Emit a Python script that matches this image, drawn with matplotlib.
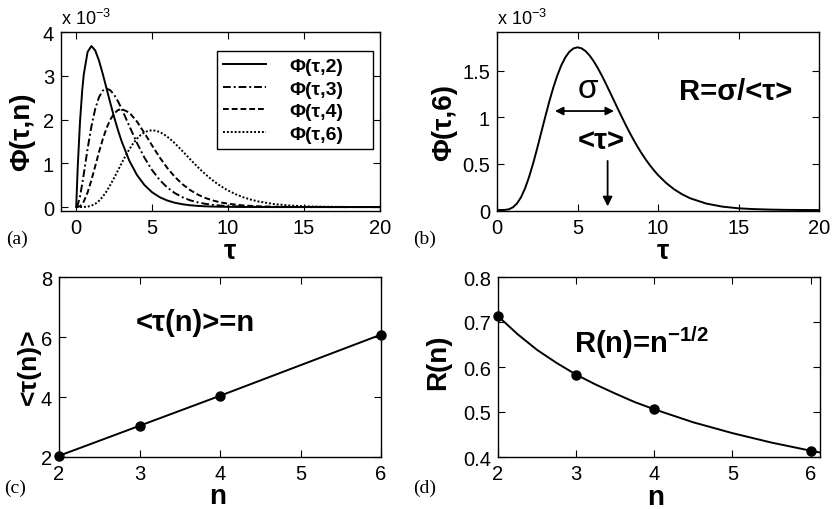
import matplotlib
matplotlib.use("Agg")
import matplotlib.pyplot as plt
from matplotlib.ticker import FormatStrFormatter

plt.rcParams['font.family'] = ['Liberation Sans', 'DejaVu Sans']
plt.rcParams['mathtext.fontset'] = 'custom'
plt.rcParams['mathtext.rm'] = 'Liberation Sans'
plt.rcParams['mathtext.it'] = 'Liberation Sans:italic'
plt.rcParams['mathtext.bf'] = 'Liberation Sans:bold'

# ---- waiting-time distributions Phi(tau, n), values in units of 1e-3 ----
tau_a = [0, 0.1, 0.25, 0.4, 0.5, 0.75, 1, 1.25, 1.5, 1.75, 2, 2.25, 2.5, 2.75,
         3, 3.5, 4, 4.5, 5, 5.5, 6, 6.5, 7, 7.5, 8, 8.5, 9, 9.5, 10, 11, 12,
         13, 14, 15, 16, 17, 18, 20]
phi_2 = [0, 0.905, 1.947, 2.681, 3.033, 3.543, 3.679, 3.581, 3.347, 3.041,
         2.707, 2.372, 2.052, 1.758, 1.494, 1.057, 0.733, 0.500, 0.337, 0.225,
         0.149, 0.098, 0.064, 0.041, 0.027, 0.017, 0.011, 0.007, 0.005, 0.002,
         0.001, 0, 0, 0, 0, 0, 0, 0]
phi_3 = [0, 0.045, 0.243, 0.536, 0.758, 1.329, 1.839, 2.238, 2.510, 2.661,
         2.707, 2.668, 2.565, 2.417, 2.240, 1.849, 1.465, 1.125, 0.842, 0.618,
         0.446, 0.317, 0.223, 0.155, 0.107, 0.074, 0.050, 0.034, 0.023, 0.010,
         0.004, 0.002, 0.001, 0, 0, 0, 0, 0]
phi_4 = [0, 0.002, 0.020, 0.071, 0.126, 0.332, 0.613, 0.932, 1.255, 1.552,
         1.804, 2.001, 2.138, 2.216, 2.240, 2.158, 1.954, 1.687, 1.404, 1.133,
         0.892, 0.688, 0.521, 0.389, 0.286, 0.208, 0.150, 0.107, 0.076, 0.037,
         0.018, 0.008, 0.004, 0.002, 0.001, 0, 0, 0]
tau_6 = [0, 0.5, 0.75, 1, 1.25, 1.5, 1.75, 2, 2.25, 2.5, 2.75, 3, 3.25, 3.5,
         3.75, 4, 4.25, 4.5, 4.75, 5, 5.25, 5.5, 5.75, 6, 6.25, 6.5, 6.75, 7,
         7.25, 7.5, 7.75, 8, 8.25, 8.5, 8.75, 9, 9.25, 9.5, 9.75, 10, 10.5, 11,
         11.5, 12, 13, 14, 15, 16, 17, 18, 20]
phi_6 = [0, 0.002, 0.009, 0.031, 0.073, 0.141, 0.238, 0.361, 0.507, 0.668,
         0.838, 1.008, 1.172, 1.322, 1.453, 1.563, 1.648, 1.708, 1.743, 1.755,
         1.744, 1.714, 1.667, 1.606, 1.534, 1.454, 1.367, 1.277, 1.186, 1.094,
         1.004, 0.916, 0.832, 0.752, 0.677, 0.607, 0.542, 0.483, 0.428, 0.378,
         0.293, 0.224, 0.170, 0.127, 0.070, 0.037, 0.019, 0.010, 0.005, 0.002, 0]
legend_labels = ['Φ(τ,2)', 'Φ(τ,3)', 'Φ(τ,4)', 'Φ(τ,6)']

# ---- mean waiting time and relative width versus n ----
n_vals = [2, 3, 4, 6]
mean_tau = [2.04, 3.04, 4.04, 6.08]
r_pts = [0.713, 0.582, 0.506, 0.413]
n_curve = [2, 2.25, 2.5, 2.75, 3, 3.25, 3.5, 3.75, 4, 4.5, 5, 5.5, 6, 6.12]
r_curve = [0.713, 0.673, 0.638, 0.609, 0.583, 0.561, 0.541, 0.522, 0.506,
           0.477, 0.453, 0.432, 0.414, 0.410]

W, H = 832, 510
fig = plt.figure(figsize=(W / 100, H / 100), dpi=100)


def px_axes(left, top, right, bottom):
    return fig.add_axes([left / W, 1 - bottom / H, (right - left) / W, (bottom - top) / H])


ax_a = px_axes(61, 33, 380, 212)
ax_b = px_axes(497, 33, 819, 212)
ax_c = px_axes(59, 278, 381, 458)
ax_d = px_axes(498, 278, 820, 458)

for ax in (ax_a, ax_b, ax_c, ax_d):
    ax.tick_params(direction='in', top=True, right=True, length=5, width=0.8,
                   labelsize=14.5, pad=5)
    for s in ax.spines.values():
        s.set_linewidth(1.0)
    ax.yaxis.set_major_formatter(FormatStrFormatter('%g'))
    ax.xaxis.set_major_formatter(FormatStrFormatter('%g'))

LW = 1.4
label_kw = dict(fontsize=20, fontweight='bold')

# (a)
ax_a.plot(tau_a, phi_2, color='black', lw=LW, ls='-', label=legend_labels[0])
ax_a.plot(tau_a, phi_3, color='black', lw=LW, ls=(0, (4, 1.5, 1, 1.5)), label=legend_labels[1])
ax_a.plot(tau_a, phi_4, color='black', lw=LW, ls=(0, (3, 1.5)), label=legend_labels[2])
ax_a.plot(tau_6, phi_6, color='black', lw=LW, ls=(0, (1, 1)), label=legend_labels[3])
ax_a.set_xlim(-1, 20)
ax_a.set_ylim(-0.09, 4)
ax_a.set_xticks([0, 5, 10, 15, 20])
ax_a.set_yticks([0, 1, 2, 3, 4])
leg = ax_a.legend(loc='upper left', bbox_to_anchor=(0.488, 0.357, 0.49, 0.538),
                  mode='expand', borderaxespad=0, fancybox=False, framealpha=1,
                  edgecolor='black', prop={'weight': 'bold', 'size': 14},
                  handlelength=2.2, handletextpad=1.2, labelspacing=0.25,
                  borderpad=0.35)
leg.get_frame().set_linewidth(1.0)
ax_a.text(0, 1.02, 'x 10$^{-3}$', transform=ax_a.transAxes, ha='left', va='bottom', fontsize=13)
ax_a.text(-0.122, 0.45, 'Φ(τ,n)', transform=ax_a.transAxes, rotation=90,
          ha='center', va='center', **label_kw)
ax_a.text(0.53, -0.225, 'τ', transform=ax_a.transAxes, ha='center', va='center', **label_kw)

# (b)
ax_b.plot(tau_6, phi_6, color='black', lw=LW)
ax_b.set_xlim(0, 20)
ax_b.set_ylim(-0.01, 1.92)
ax_b.set_xticks([0, 5, 10, 15, 20])
ax_b.set_yticks([0, 0.5, 1, 1.5])
ax_b.text(0, 1.02, 'x 10$^{-3}$', transform=ax_b.transAxes, ha='left', va='bottom', fontsize=13)
ax_b.text(-0.165, 0.5, 'Φ(τ,6)', transform=ax_b.transAxes, rotation=90,
          ha='center', va='center', **label_kw)
ax_b.text(0.515, -0.225, 'τ', transform=ax_b.transAxes, ha='center', va='center', **label_kw)
ax_b.annotate('', xy=(3.6, 1.068), xytext=(7.27, 1.068),
              arrowprops=dict(arrowstyle='<|-|>', color='black', lw=1.3,
                              mutation_scale=12, shrinkA=0, shrinkB=0))
ax_b.text(5.67, 1.31, 'σ', ha='center', va='center', fontsize=24)
ax_b.text(6.5, 0.752, '<τ>', ha='center', va='center', fontsize=21, fontweight='bold')
ax_b.annotate('', xy=(6.87, 0.04), xytext=(6.87, 0.53),
              arrowprops=dict(arrowstyle='-|>', color='black', lw=1.3,
                              mutation_scale=14, shrinkA=0, shrinkB=0))
ax_b.text(14.8, 1.28, 'R=σ/<τ>', ha='center', va='center', fontsize=21, fontweight='bold')

# (c)
ax_c.plot(n_vals, mean_tau, color='black', lw=LW, marker='o', ms=6.5, clip_on=False)
ax_c.set_xlim(2, 6)
ax_c.set_ylim(2, 8)
ax_c.set_xticks([2, 3, 4, 5, 6])
ax_c.set_yticks([2, 4, 6, 8])
ax_c.text(3.69, 6.49, '<τ(n)>=n', ha='center', va='center', fontsize=21, fontweight='bold')
ax_c.text(-0.095, 0.505, '<τ(n)>', transform=ax_c.transAxes, rotation=90,
          ha='center', va='center', fontsize=19, fontweight='bold')
ax_c.text(0.494, -0.215, 'n', transform=ax_c.transAxes, ha='center', va='center', **label_kw)

# (d)
ax_d.plot(n_curve, r_curve, color='black', lw=LW)
ax_d.plot(n_vals, r_pts, ls='none', color='black', marker='o', ms=6.5, clip_on=False)
ax_d.set_xlim(2, 6.12)
ax_d.set_ylim(0.4, 0.8)
ax_d.set_xticks([2, 3, 4, 5, 6])
ax_d.set_yticks([0.4, 0.5, 0.6, 0.7, 0.8])
ax_d.text(3.83, 0.656, 'R(n)=n$^{\\mathbf{-1/2}}$', ha='center', va='center',
          fontsize=21, fontweight='bold')
ax_d.text(-0.185, 0.53, 'R(n)', transform=ax_d.transAxes, rotation=90,
          ha='center', va='center', **label_kw)
ax_d.text(0.488, -0.22, 'n', transform=ax_d.transAxes, ha='center', va='center', **label_kw)

# panel letters
for lbl, x, y in (('(a)', 17, 239), ('(b)', 425, 239), ('(c)', 15, 488), ('(d)', 425, 488)):
    fig.text(x / W, 1 - y / H, lbl, ha='center', va='center', fontsize=14,
             family='Liberation Serif')

fig.savefig('out.png', dpi=100)
